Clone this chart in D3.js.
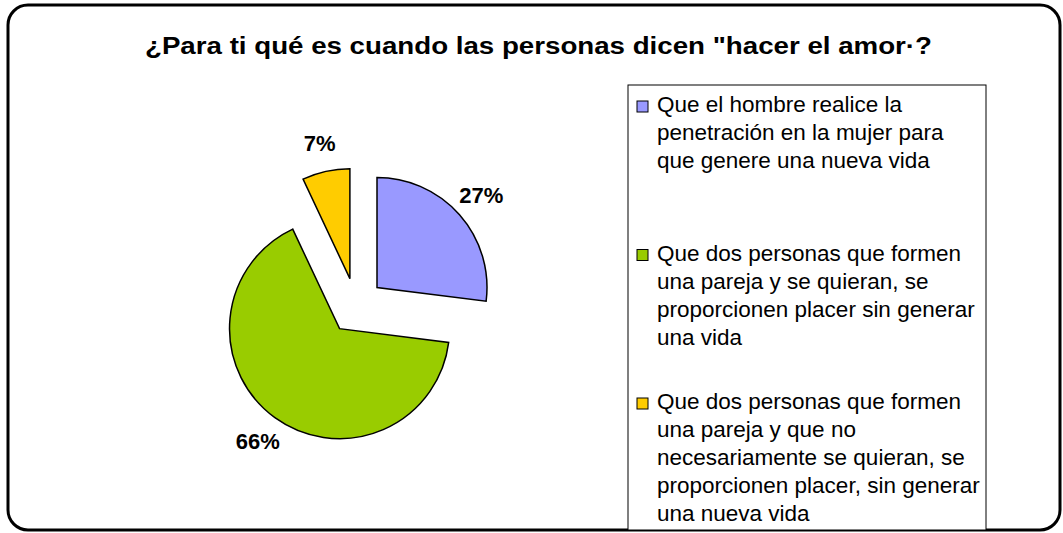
<!DOCTYPE html>
<html lang="es">
<head>
<meta charset="utf-8">
<title>Hacer el amor</title>
<script src="https://cdn.jsdelivr.net/npm/d3@7/dist/d3.min.js"></script>
<style>
    body { margin: 0; background: #fff; }
    svg { display: block; }
    text { font-family: 'Liberation Sans', Arial, sans-serif; fill: #000; }
    .title { font-size: 23px; font-weight: bold; }
    .pct { font-size: 22px; font-weight: bold; }
    .legend text { font-size: 22.5px; }
</style>
</head>
<body>
<svg id="chart"></svg>
<script>
    // data
    const categories = [
        "Que el hombre realice la penetración en la mujer para que genere una nueva vida",
        "Que dos personas que formen una pareja y se quieran, se proporcionen placer sin generar una vida",
        "Que dos personas que formen una pareja y que no necesariamente se quieran, se proporcionen placer, sin generar una nueva vida"
    ];
    const values = [27, 66, 7];
    const pctLabels = ["27%", "66%", "7%"];
    // legend lines as wrapped in the original
    const legendLines = [
        ["Que el hombre realice la", "penetración en la mujer para", "que genere una nueva vida"],
        ["Que dos personas que formen", "una pareja y se quieran, se", "proporcionen placer sin generar", "una vida"],
        ["Que dos personas que formen", "una pareja y que no", "necesariamente se quieran, se", "proporcionen placer, sin generar", "una nueva vida"]
    ];
    const colors = ["#9999ff", "#99cc00", "#ffcc00"];

    const WIDTH = 1063, HEIGHT = 533;
    const CX = 356, CY = 306, R = 110, EXPLODE = 28, LABEL_R = 167;

    const svg = d3.select("#chart")
        .attr("width", WIDTH)
        .attr("height", HEIGHT);

    // outer rounded frame
    svg.append("rect")
        .attr("x", 8).attr("y", 5)
        .attr("width", 1052).attr("height", 525)
        .attr("rx", 20).attr("ry", 20)
        .attr("fill", "none")
        .attr("stroke", "#000")
        .attr("stroke-width", 3);

    svg.append("text")
        .attr("class", "title")
        .attr("x", 145).attr("y", 54)
        .attr("textLength", 787)
        .attr("lengthAdjust", "spacingAndGlyphs")
        .text("¿Para ti qué es cuando las personas dicen \"hacer el amor·?");

    // pie
    const pie = d3.pie().sort(null).value(d => d);
    const arcs = pie(values);
    const arc = d3.arc().innerRadius(0).outerRadius(R);
    const labelArc = d3.arc().innerRadius(LABEL_R).outerRadius(LABEL_R);

    const plane = svg.append("g")
        .attr("transform", `translate(${[CX, CY]})`);

    plane.selectAll("path.slice")
        .data(arcs)
        .join("path")
        .attr("class", "slice")
        .attr("d", arc)
        .attr("transform", d => {
            const a = (d.startAngle + d.endAngle) / 2;
            return `translate(${[EXPLODE * Math.sin(a), -EXPLODE * Math.cos(a)]})`;
        })
        .attr("fill", (d, i) => colors[i])
        .attr("stroke", "#000")
        .attr("stroke-width", 1.5)
        .attr("stroke-linejoin", "miter");

    plane.selectAll("text.pct")
        .data(arcs)
        .join("text")
        .attr("class", "pct")
        .attr("text-anchor", "middle")
        .attr("dy", "0.36em")
        .attr("transform", d => `translate(${labelArc.centroid(d)})`)
        .text((d, i) => pctLabels[i]);

    // legend
    const LX = 628, LY = 85, LW = 358, LH = 445;
    const legend = svg.append("g").attr("class", "legend");
    legend.append("rect")
        .attr("x", LX).attr("y", LY)
        .attr("width", LW).attr("height", LH)
        .attr("fill", "#fff")
        .attr("stroke", "#000")
        .attr("stroke-width", 1);

    const ENTRY_STEP = 148.5, LINE_H = 28, FIRST_BASE = 112;
    const entries = legend.selectAll("g.entry")
        .data(categories)
        .join("g")
        .attr("class", "entry")
        .attr("transform", (d, i) => `translate(${[LX, FIRST_BASE + i * ENTRY_STEP]})`);

    entries.append("rect")
        .attr("x", 9).attr("y", -11)
        .attr("width", 11).attr("height", 11)
        .attr("fill", (d, i) => colors[i])
        .attr("stroke", "#000")
        .attr("stroke-width", 1);

    entries.append("text")
        .selectAll("tspan")
        .data((d, i) => legendLines[i])
        .join("tspan")
        .attr("x", 29)
        .attr("y", (d, j) => j * LINE_H)
        .text(d => d);
</script>
</body>
</html>
